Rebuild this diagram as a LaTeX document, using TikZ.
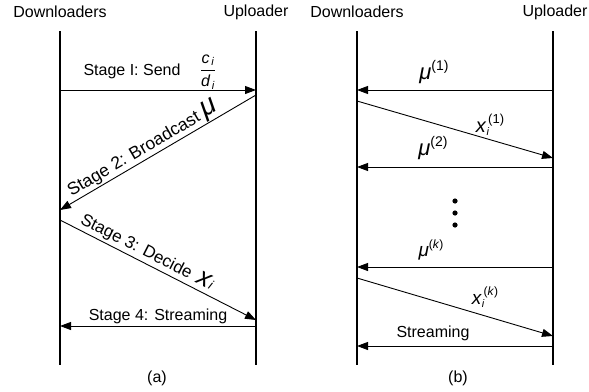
\documentclass[tikz,border=0pt]{standalone}
\usepackage{amsmath}
\usepackage{fontspec}
\setmainfont{Liberation Sans}
\usetikzlibrary{arrows.meta}
\tikzset{
  lbl/.style={font=\fontsize{16}{19}\selectfont, inner sep=1pt},
  life/.style={line width=2.6pt},
  msg/.style={line width=0.9pt, -{Triangle[length=11pt,width=8pt]}},
}
\newcommand{\mymu}{\textit{μ}}
\newcommand{\fs}[1]{\fontsize{#1}{#1}\selectfont}
\begin{document}
\begin{tikzpicture}[x=1pt,y=-1pt]
\useasboundingbox (0,0) rectangle (589,391);
% ---------- panel (a)
\node[lbl] (adl) at (60,12) {Downloaders};
\node[lbl] (aul) at (256,12) {Uploader};
\coordinate (aLt) at (60,31);  \coordinate (aLb) at (60,365);
\coordinate (aRt) at (256,31); \coordinate (aRb) at (256,365);
\draw[life] (aLt) -- (aLb);
\draw[life] (aRt) -- (aRb);
\coordinate (a1s) at (60,90);  \coordinate (a1e) at (256,90);
\coordinate (a2s) at (256,95); \coordinate (a2e) at (60,210);
\coordinate (a3s) at (60,220); \coordinate (a3e) at (256,320);
\coordinate (a4s) at (256,326);\coordinate (a4e) at (60,326);
\draw[msg] (a1s) -- (a1e);
\node[lbl] (s1) at (132,71) {Stage I: Send};
\node[lbl] (s1f) at (208,72) {$\dfrac{\textit{c}_{\,\textit{i}}}{\textit{d}_{\,\textit{i}}}$};
\draw[msg] (a2s) -- node[lbl, font=\fs{17.5}, sloped, above=-1pt, pos=0.55] (s2) {Stage 2: Broadcast {\fs{28}\mymu}} (a2e);
\draw[msg] (a3s) -- node[lbl, font=\fs{17}, sloped, above=1pt, pos=0.42] (s3) {Stage 3: Decide \,{\fs{26}\textit{x}}{\fs{13}\textit{i}}} (a3e);
\draw[msg] (a4s) -- node[lbl, above=1pt, pos=0.5] (s4) {Stage 4: Streaming} (a4e);
\node[lbl] (acap) at (157,378) {(a)};
% ---------- panel (b)
\node[lbl] (bdl) at (357,12) {Downloaders};
\node[lbl] (bul) at (555,12) {Uploader};
\coordinate (bLt) at (357,31);  \coordinate (bLb) at (357,365);
\coordinate (bRt) at (553,31);  \coordinate (bRb) at (553,365);
\draw[life] (bLt) -- (bLb);
\draw[life] (bRt) -- (bRb);
\coordinate (b1s) at (553,90);  \coordinate (b1e) at (357,90);
\coordinate (b2s) at (357,101); \coordinate (b2e) at (553,158);
\coordinate (b3s) at (553,167); \coordinate (b3e) at (357,167);
\coordinate (b4s) at (553,267); \coordinate (b4e) at (357,267);
\coordinate (b5s) at (357,278); \coordinate (b5e) at (553,336);
\coordinate (b6s) at (553,346); \coordinate (b6e) at (357,346);
\draw[msg] (b1s) -- (b1e);
\node[lbl] (m1) at (434,72) {{\fs{22}\mymu}\raisebox{9pt}{\fs{14}(1)}};
\draw[msg] (b2s) -- (b2e);
\node[lbl] (x1) at (490,125) {{\fs{20}\textit{x}}\raisebox{-3pt}{\fs{11}\textit{i}}\kern-1pt\raisebox{9pt}{\fs{13}(1)}};
\draw[msg] (b3s) -- (b3e);
\node[lbl] (m2) at (433,148) {{\fs{22}\mymu}\raisebox{9pt}{\fs{14}(2)}};
\fill (455,201) circle (2.6pt) (455,213) circle (2.6pt) (455,225) circle (2.6pt);
\draw[msg] (b4s) -- (b4e);
\node[lbl] (mk) at (431,250) {{\fs{19}\mymu}\raisebox{8pt}{\fs{12}(\textit{k})}};
\draw[msg] (b5s) -- (b5e);
\node[lbl] (xk) at (485,297) {{\fs{19}\textit{x}}\raisebox{-3pt}{\fs{11}\textit{i}}\kern-1pt\raisebox{9pt}{\fs{12}(\textit{k})}};
\draw[msg] (b6s) -- (b6e);
\node[lbl] (st) at (433,333) {Streaming};
\node[lbl] (bcap) at (458,378) {(b)};
\end{tikzpicture}
\end{document}
